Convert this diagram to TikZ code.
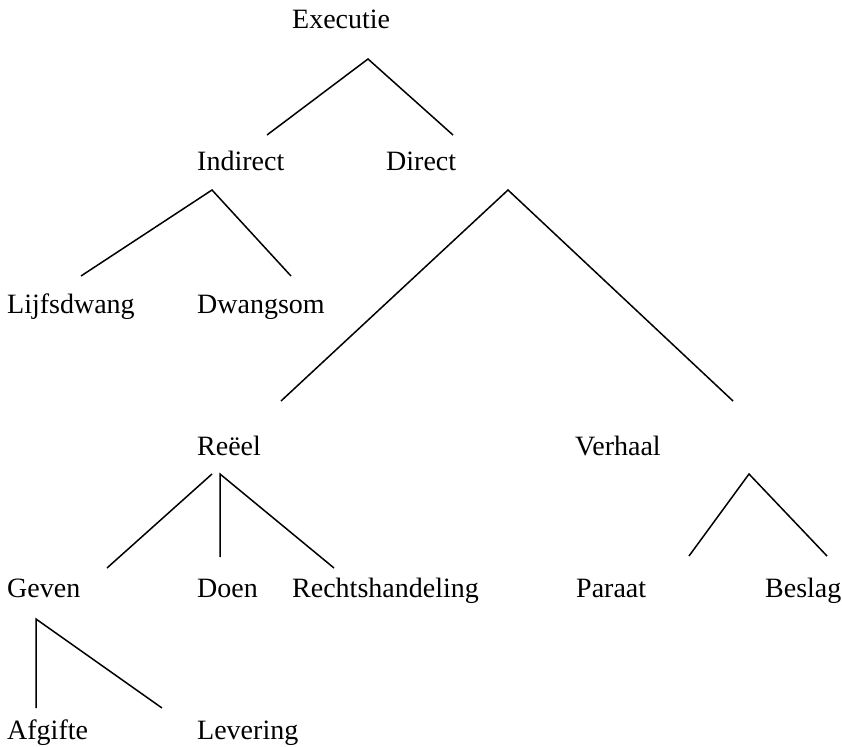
\documentclass[tikz,border=0pt]{standalone}
\usepackage{fontspec}
\setmainfont{Liberation Serif}
\usepackage{tikz}

\begin{document}
\begin{tikzpicture}[x=1pt,y=-1pt,font=\fontsize{28}{33}\selectfont]
	\tikzset{term/.style={anchor=base west,inner sep=0pt}, twig/.style={line width=1.5pt}}
	\useasboundingbox (0,0) rectangle (842,746);
	% terms
	\node[term] (executie) at (292,29) {Executie};
	\node[term] (indirect) at (197,171) {Indirect};
	\node[term] (direct) at (386,171) {Direct};
	\node[term] (lijfsdwang) at (7,313) {Lijfsdwang};
	\node[term] (dwangsom) at (197,313) {Dwangsom};
	\node[term] (reeel) at (197,455) {Reëel};
	\node[term] (verhaal) at (575,455) {Verhaal};
	\node[term] (geven) at (7,597) {Geven};
	\node[term] (doen) at (197,597) {Doen};
	\node[term] (rechtshandeling) at (292,597) {Rechtshandeling};
	\node[term] (paraat) at (576,597) {Paraat};
	\node[term] (beslag) at (765,597) {Beslag};
	\node[term] (afgifte) at (7,739) {Afgifte};
	\node[term] (levering) at (197,739) {Levering};
	% branch points
	\coordinate (topExecutie) at (368,59);
	\coordinate (endIndirect) at (267,135);
	\coordinate (endDirect) at (453,135);
	\coordinate (topIndirect) at (212,190);
	\coordinate (endLijfsdwang) at (81,276);
	\coordinate (endDwangsom) at (291,276);
	\coordinate (topDirect) at (508,190);
	\coordinate (endReeel) at (281,401);
	\coordinate (endVerhaal) at (733,401);
	\coordinate (topReeelL) at (212,474);
	\coordinate (topReeel) at (220,474);
	\coordinate (endGeven) at (107,568);
	\coordinate (endDoen) at (220,557);
	\coordinate (endRecht) at (334,568);
	\coordinate (topVerhaal) at (749,474);
	\coordinate (endParaat) at (689,556);
	\coordinate (endBeslag) at (827,556);
	\coordinate (topGeven) at (36,619);
	\coordinate (endAfgifte) at (36,708);
	\coordinate (endLevering) at (162,708);
	% branches
	\draw[twig] (endIndirect) -- (topExecutie) -- (endDirect);
	\draw[twig] (endLijfsdwang) -- (topIndirect) -- (endDwangsom);
	\draw[twig] (endReeel) -- (topDirect) -- (endVerhaal);
	\draw[twig] (endGeven) -- (topReeelL);
	\draw[twig] (endDoen) -- (topReeel) -- (endRecht);
	\draw[twig] (endParaat) -- (topVerhaal) -- (endBeslag);
	\draw[twig] (endAfgifte) -- (topGeven) -- (endLevering);
\end{tikzpicture}
\end{document}
